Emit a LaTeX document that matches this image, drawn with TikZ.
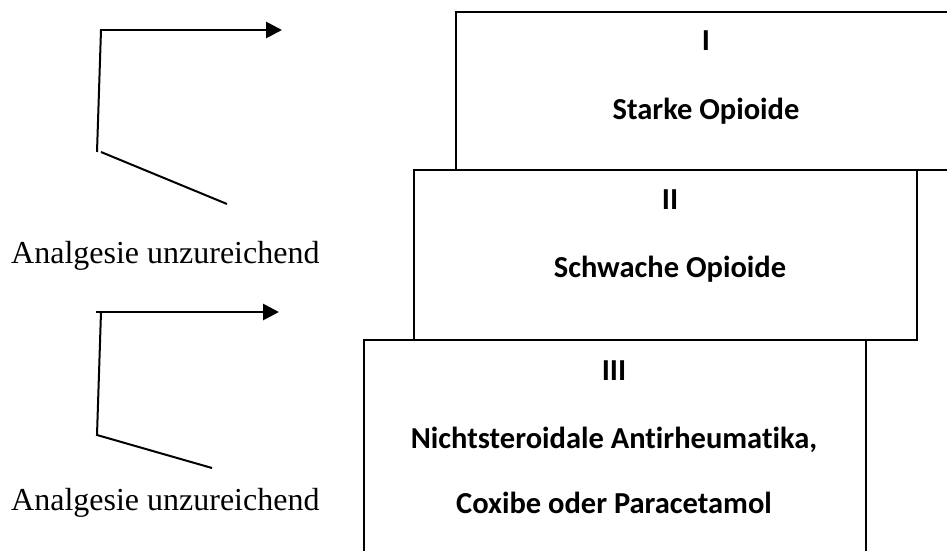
\documentclass[tikz,border=0pt]{standalone}
\usepackage{fontspec}
\setmainfont{Liberation Serif}
\newfontfamily\calibri[Ligatures=NoCommon]{Carlito}
\usetikzlibrary{arrows.meta}
\begin{document}
\begin{tikzpicture}[x=1pt,y=-1pt,
  box/.style={draw, line width=1.7pt, fill=white, rectangle, inner sep=0pt, anchor=north west},
  lbl/.style={font=\calibri\bfseries\fontsize{30.5}{36}\selectfont, anchor=base, inner sep=0pt},
  note/.style={font=\fontsize{32}{38}\selectfont, anchor=base west, inner sep=0pt},
  arr/.style={line width=2.8pt, -{Triangle[length=16pt,width=16pt]}},
  leg/.style={line width=2pt}]
\useasboundingbox (0,0) rectangle (947,551);
\clip (0,0) rectangle (947,551);
% boxes
\node[box, minimum width=520pt, minimum height=158pt] (b1) at (455,11) {};
\node[box, minimum width=503pt, minimum height=170pt] (b2) at (413,169) {};
\node[box, minimum width=502pt, minimum height=240pt] (b3) at (363,339) {};
% box texts
\node[lbl] (t1) at (706,51) {I};
\node[lbl] (s1) at (706,119) {Starke Opioide};
\node[lbl] (t2) at (670,209) {II};
\node[lbl] (s2) at (670,277) {Schwache Opioide};
\node[lbl] (t3) at (614,380) {III};
\node[lbl] (s3) at (614,448) {Nichtsteroidale Antirheumatika,};
\node[lbl] (s3b) at (614,513) {Coxibe oder Paracetamol};
% side notes
\node[note] (n1) at (11,263) {Analgesie unzureichend};
\node[note] (n2) at (11,510) {Analgesie unzureichend};
% arrow 1
\coordinate (a1s) at (100,30);
\coordinate (a1k) at (101,30);
\coordinate (a1e) at (282,30);
\coordinate (a1v) at (97,152);
\coordinate (a1d0) at (101,152);
\coordinate (a1d) at (227,204);
\draw[arr] (a1s) -- (a1e);
\draw[leg] (a1k) -- (a1v);
\draw[leg] (a1d0) -- (a1d);
% arrow 2
\coordinate (a2s) at (96,312);
\coordinate (a2k) at (101,312);
\coordinate (a2e) at (279,312);
\coordinate (a2v) at (97,435);
\coordinate (a2d) at (212,468);
\draw[arr] (a2s) -- (a2e);
\draw[leg] (a2k) -- (a2v) -- (a2d);
\end{tikzpicture}
\end{document}
